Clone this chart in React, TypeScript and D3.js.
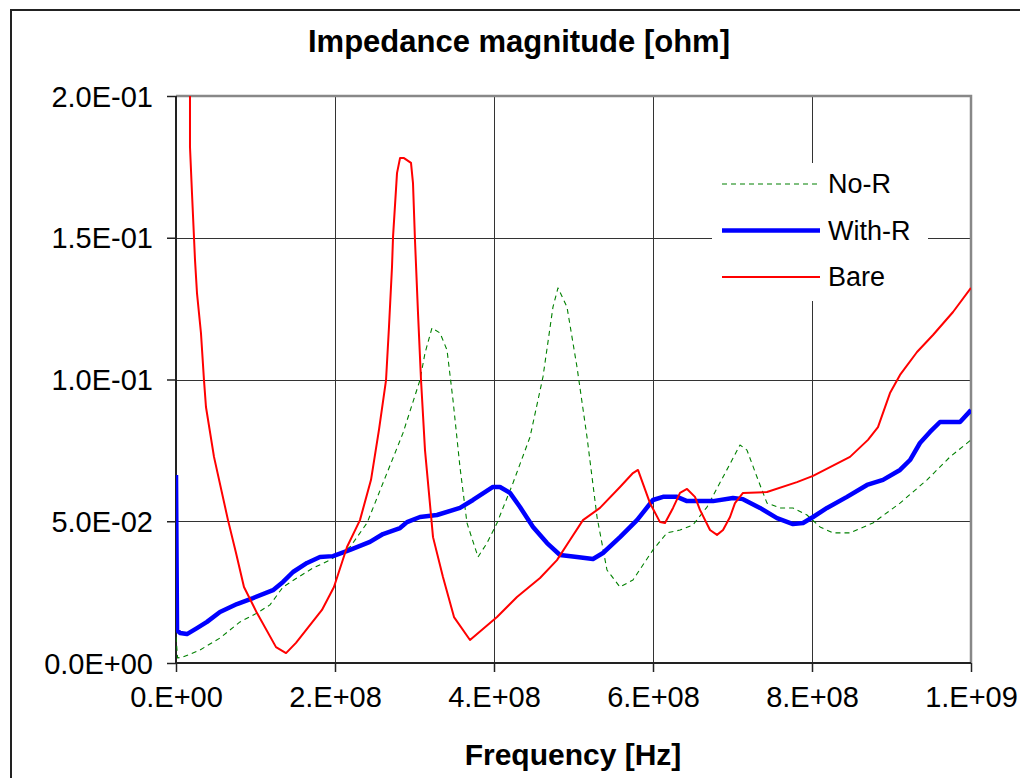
import React, { useEffect, useRef } from "react";
import * as d3 from "d3";

// frequency [Hz] and impedance [ohm]
const NOR_F = [0, 2e6, 8.8e6, 3.02e7, 5.53e7, 8.05e7, 1.019e8, 1.182e8, 1.346e8, 1.522e8, 1.723e8, 1.937e8, 2.189e8, 2.403e8, 2.604e8, 2.855e8, 3.069e8, 3.132e8, 3.22e8, 3.321e8, 3.409e8, 3.484e8, 3.572e8, 3.66e8, 3.799e8, 3.912e8, 4.038e8, 4.239e8, 4.453e8, 4.616e8, 4.742e8, 4.805e8, 4.918e8, 5.044e8, 5.17e8, 5.296e8, 5.421e8, 5.585e8, 5.748e8, 6.0e8, 6.176e8, 6.34e8, 6.503e8, 6.679e8, 6.881e8, 7.094e8, 7.182e8, 7.308e8, 7.434e8, 7.597e8, 7.761e8, 7.937e8, 8.101e8, 8.264e8, 8.478e8, 8.767e8, 9.107e8, 9.447e8, 9.736e8, 1.0e9];
const NOR_Z = [0.0092, 0.0018, 0.0021, 0.0046, 0.0088, 0.0145, 0.0176, 0.0205, 0.0268, 0.030, 0.0335, 0.0363, 0.0409, 0.0494, 0.0635, 0.0811, 0.0998, 0.1093, 0.1182, 0.1164, 0.1104, 0.0928, 0.0691, 0.0494, 0.0374, 0.0423, 0.0494, 0.0635, 0.0797, 0.1009, 0.1256, 0.1323, 0.1256, 0.1044, 0.0797, 0.0515, 0.0328, 0.0268, 0.0293, 0.0399, 0.0459, 0.0469, 0.0487, 0.055, 0.0656, 0.0769, 0.0751, 0.0656, 0.0564, 0.0547, 0.0547, 0.0522, 0.048, 0.0459, 0.0459, 0.0494, 0.0564, 0.0646, 0.0727, 0.0787];

const WITHR_F = [0, 1.3e6, 5.0e6, 1.38e7, 2.64e7, 3.9e7, 5.53e7, 7.67e7, 9.69e7, 1.22e8, 1.346e8, 1.472e8, 1.648e8, 1.811e8, 1.975e8, 2.189e8, 2.44e8, 2.604e8, 2.818e8, 2.906e8, 3.069e8, 3.283e8, 3.572e8, 3.736e8, 3.987e8, 4.075e8, 4.201e8, 4.327e8, 4.491e8, 4.667e8, 4.83e8, 5.044e8, 5.245e8, 5.371e8, 5.585e8, 5.799e8, 6.0e8, 6.126e8, 6.302e8, 6.428e8, 6.755e8, 7.006e8, 7.132e8, 7.346e8, 7.56e8, 7.761e8, 7.887e8, 8.013e8, 8.189e8, 8.44e8, 8.692e8, 8.893e8, 9.107e8, 9.233e8, 9.358e8, 9.484e8, 9.61e8, 9.862e8, 1.0e9];
const WITHR_Z = [0.0663, 0.0116, 0.0106, 0.0102, 0.0123, 0.0145, 0.018, 0.0208, 0.0229, 0.0257, 0.0286, 0.0321, 0.0353, 0.0374, 0.0377, 0.0399, 0.0427, 0.0455, 0.0476, 0.0497, 0.0515, 0.0522, 0.0547, 0.0575, 0.0621, 0.0621, 0.060, 0.055, 0.048, 0.0423, 0.0381, 0.0374, 0.0367, 0.0388, 0.0444, 0.0504, 0.0575, 0.0586, 0.0586, 0.0571, 0.0571, 0.0582, 0.0578, 0.0547, 0.0511, 0.049, 0.0494, 0.0515, 0.0547, 0.0586, 0.0628, 0.0646, 0.0681, 0.0716, 0.0776, 0.0815, 0.085, 0.085, 0.0892];

const BARE_F = [1.7e7, 1.76e7, 1.76e7, 2.01e7, 2.39e7, 2.64e7, 3.14e7, 3.52e7, 3.77e7, 4.78e7, 6.54e7, 7.55e7, 8.55e7, 1.019e8, 1.258e8, 1.384e8, 1.509e8, 1.836e8, 1.987e8, 2.151e8, 2.314e8, 2.453e8, 2.553e8, 2.642e8, 2.679e8, 2.717e8, 2.73e8, 2.78e8, 2.818e8, 2.868e8, 2.956e8, 2.981e8, 3.006e8, 3.044e8, 3.082e8, 3.132e8, 3.233e8, 3.358e8, 3.497e8, 3.698e8, 4.038e8, 4.289e8, 4.579e8, 4.792e8, 4.956e8, 5.119e8, 5.333e8, 5.585e8, 5.748e8, 5.811e8, 5.962e8, 6.088e8, 6.151e8, 6.252e8, 6.34e8, 6.428e8, 6.528e8, 6.591e8, 6.717e8, 6.805e8, 6.881e8, 6.969e8, 7.031e8, 7.132e8, 7.434e8, 7.811e8, 8.013e8, 8.478e8, 8.704e8, 8.83e8, 8.981e8, 9.107e8, 9.321e8, 9.522e8, 9.774e8, 1.0e9];
const BARE_Z = [0.23, 0.200, 0.182, 0.1658, 0.1422, 0.1305, 0.1164, 0.0998, 0.0903, 0.0727, 0.0504, 0.0388, 0.0268, 0.0176, 0.0056, 0.0035, 0.0071, 0.0187, 0.0268, 0.0409, 0.0504, 0.0646, 0.0822, 0.0998, 0.1185, 0.1397, 0.1503, 0.1728, 0.1781, 0.1781, 0.1764, 0.1693, 0.1492, 0.1235, 0.0998, 0.0751, 0.0444, 0.0303, 0.0162, 0.0081, 0.0162, 0.0233, 0.030, 0.0363, 0.0434, 0.0504, 0.0547, 0.0621, 0.067, 0.0681, 0.0564, 0.0497, 0.0494, 0.0547, 0.060, 0.0614, 0.0586, 0.054, 0.0469, 0.0452, 0.0469, 0.0515, 0.0564, 0.060, 0.0603, 0.0638, 0.066, 0.0727, 0.0787, 0.0832, 0.0952, 0.1016, 0.1097, 0.1157, 0.1238, 0.1323];

const X_TICKS = [0, 2e8, 4e8, 6e8, 8e8, 1e9];
const X_TICK_LABELS = ["0.E+00", "2.E+08", "4.E+08", "6.E+08", "8.E+08", "1.E+09"];
const Y_TICKS = [0, 0.05, 0.1, 0.15, 0.2];
const Y_TICK_LABELS = ["0.0E+00", "5.0E-02", "1.0E-01", "1.5E-01", "2.0E-01"];

const SERIES = [
  { name: "No-R", f: NOR_F, z: NOR_Z, color: "#008000", width: 1.1, dash: "5,4" },
  { name: "With-R", f: WITHR_F, z: WITHR_Z, color: "#0000ff", width: 4.5, dash: null },
  { name: "Bare", f: BARE_F, z: BARE_Z, color: "#ff0000", width: 2, dash: null },
];

const FONT = "'Liberation Sans', Arial, sans-serif";

export default function App() {
  const svgRef = useRef<SVGSVGElement>(null);

  useEffect(() => {
    const width = 1020, height = 778;
    const left = 176, right = 971, top = 96, bottom = 663;

    const svg = d3.select(svgRef.current);
    svg.selectAll("*").remove();
    svg.attr("width", width).attr("height", height);

    const x = d3.scaleLinear().domain([0, 1e9]).range([left, right]);
    const y = d3.scaleLinear().domain([0, 0.2]).range([bottom, top]);

    // outer chart frame (runs off the right/bottom edge)
    svg.append("path")
      .attr("d", `M11,${height + 5} L11,10 L${width + 5},10`)
      .attr("fill", "none").attr("stroke", "#222").attr("stroke-width", 2);

    svg.append("defs").append("clipPath").attr("id", "plot-clip")
      .append("rect").attr("x", left).attr("y", top)
      .attr("width", right - left).attr("height", bottom - top);

    // Grid lines
    svg.selectAll(".grid-x")
      .data(X_TICKS.slice(1, -1))
      .join("line")
      .attr("x1", d => Math.round(x(d)) + 0.5).attr("x2", d => Math.round(x(d)) + 0.5)
      .attr("y1", top).attr("y2", bottom)
      .attr("stroke", "#333").attr("stroke-width", 1);

    svg.selectAll(".grid-y")
      .data(Y_TICKS.slice(1, -1))
      .join("line")
      .attr("x1", left).attr("x2", right)
      .attr("y1", d => Math.round(y(d)) + 0.5).attr("y2", d => Math.round(y(d)) + 0.5)
      .attr("stroke", "#333").attr("stroke-width", 1);

    // plot-area border top/right
    svg.append("path")
      .attr("d", `M${left},${top} L${right},${top} L${right},${bottom}`)
      .attr("fill", "none").attr("stroke", "#888").attr("stroke-width", 2.5);

    // Axes
    svg.append("g")
      .attr("transform", `translate(0,${bottom})`)
      .call(d3.axisBottom(x).tickValues(X_TICKS).tickSize(9).tickFormat((d, i) => X_TICK_LABELS[i]))
      .call(g => g.select(".domain").attr("stroke", "#222").attr("stroke-width", 2).attr("d", `M${left},0H${right}`))
      .call(g => g.selectAll(".tick line").attr("stroke", "#222").attr("stroke-width", 1.5))
      .call(g => g.selectAll(".tick text").attr("fill", "#000").attr("y", 44).attr("dy", 0)
        .style("font-family", FONT).style("font-size", "29px"));

    svg.append("g")
      .attr("transform", `translate(${left},0)`)
      .call(d3.axisLeft(y).tickValues(Y_TICKS).tickSize(9).tickFormat((d, i) => Y_TICK_LABELS[i]))
      .call(g => g.select(".domain").attr("stroke", "#222").attr("stroke-width", 2).attr("d", `M0,${top}V${bottom}`))
      .call(g => g.selectAll(".tick line").attr("stroke", "#222").attr("stroke-width", 1.5))
      .call(g => g.selectAll(".tick text").attr("fill", "#000").attr("x", -23).attr("dy", "0.35em")
        .style("font-family", FONT).style("font-size", "29px"));

    // Series
    const plot = svg.append("g").attr("clip-path", "url(#plot-clip)");
    SERIES.forEach(s => {
      const pts = s.f.map((f, i) => [f, s.z[i]] as [number, number]);
      const line = d3.line<[number, number]>().x(d => x(d[0])).y(d => y(d[1]));
      plot.append("path")
        .attr("d", line(pts))
        .attr("fill", "none")
        .attr("stroke", s.color)
        .attr("stroke-width", s.width)
        .attr("stroke-linejoin", "round")
        .attr("stroke-dasharray", s.dash);
    });

    // Legend
    const legend = svg.append("g");
    legend.append("rect")
      .attr("x", 712).attr("y", 163).attr("width", 216).attr("height", 138)
      .attr("fill", "#fff");
    SERIES.forEach((s, i) => {
      const ly = 184 + i * 46.5;
      legend.append("line")
        .attr("x1", 722).attr("x2", 820).attr("y1", ly).attr("y2", ly)
        .attr("stroke", s.color).attr("stroke-width", s.width)
        .attr("stroke-dasharray", s.dash);
      legend.append("text")
        .attr("x", 828).attr("y", ly + 9)
        .style("font-family", FONT).style("font-size", "27px")
        .text(s.name);
    });

    // Titles
    svg.append("text")
      .attr("x", 519).attr("y", 52)
      .attr("text-anchor", "middle")
      .style("font-family", FONT).style("font-size", "31px").style("font-weight", 700)
      .text("Impedance magnitude [ohm]");

    svg.append("text")
      .attr("x", 573).attr("y", 765)
      .attr("text-anchor", "middle")
      .style("font-family", FONT).style("font-size", "30px").style("font-weight", 700)
      .text("Frequency [Hz]");
  }, []);

  return (
    <div style={{ position: "absolute", left: 0, top: 0, width: 1020, height: 778, background: "#fff" }}>
      <svg ref={svgRef} style={{ display: "block" }} />
    </div>
  );
}
